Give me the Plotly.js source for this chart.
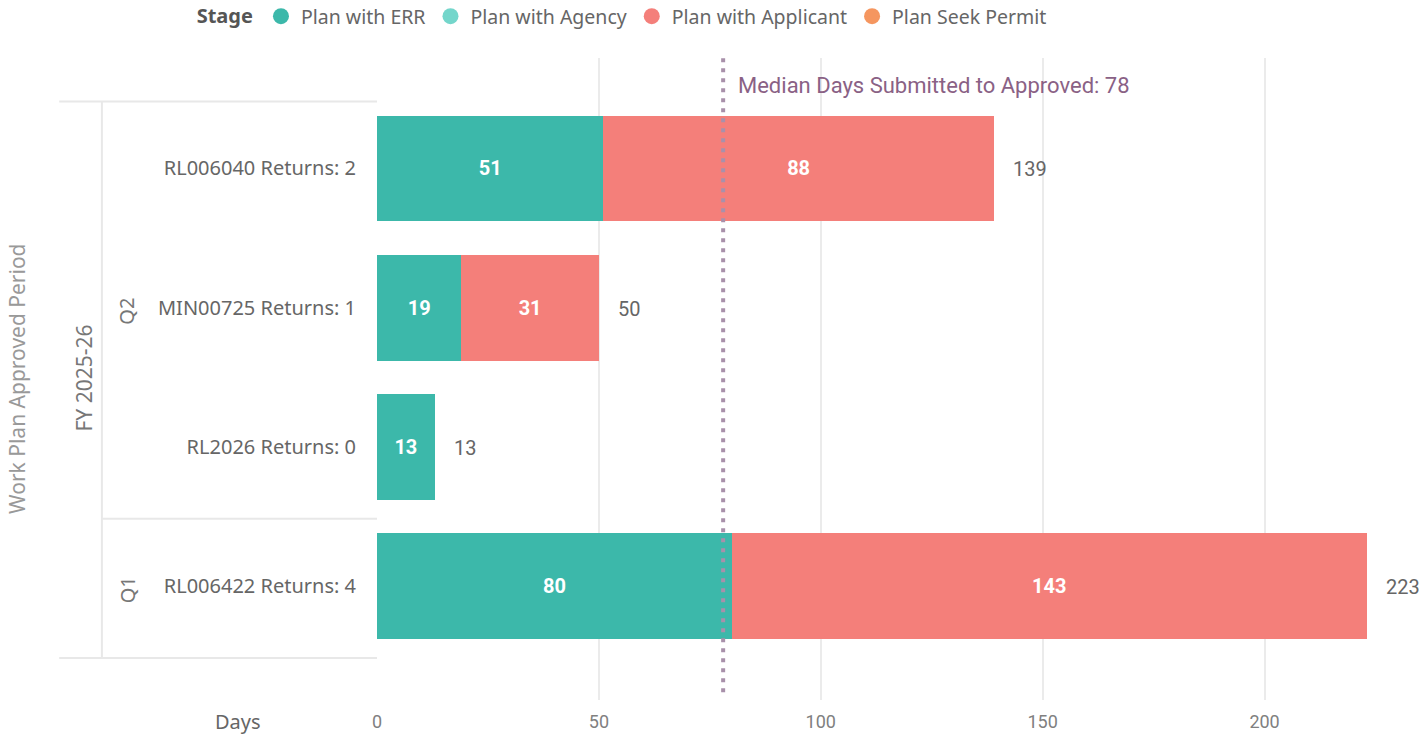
<!DOCTYPE html>
<html>
<head>
<meta charset="utf-8">
<script src="https://cdn.plot.ly/plotly-3.0.1.min.js"></script>
<style>
html,body{margin:0;padding:0;background:#fff;}
#chart{width:1419px;height:735px;}
</style>
</head>
<body>
<div id="chart"></div>
<script>
// ---- data ----
const categories = ["RL006422 Returns: 4", "RL2026 Returns: 0", "MIN00725 Returns: 1", "RL006040 Returns: 2"];
const quarters = ["Q1", "Q2", "Q2", "Q2"];
const fiscalYear = "FY 2025-26";
const planWithERR = [80, 13, 19, 51];
const planWithAgency = [null, null, null, null];
const planWithApplicant = [143, null, 31, 88];
const planSeekPermit = [null, null, null, null];
const stageNames = ["Plan with ERR", "Plan with Agency", "Plan with Applicant", "Plan Seek Permit"];
const medianDays = 78;
const xTicks = [0, 50, 100, 150, 200];

const colors = ["#3CB8AA", "#74D6CB", "#F47F7A", "#F5965F"];
const seriesVals = [planWithERR, planWithAgency, planWithApplicant, planSeekPermit];
const totals = categories.map((c, i) => seriesVals.reduce((s, arr) => s + (arr[i] || 0), 0));

const DIN = "Roboto, 'Noto Sans', sans-serif";
const SEG = "'Noto Sans', 'Open Sans', sans-serif";

const traces = [];
seriesVals.forEach((vals, k) => {
  traces.push({
    type: 'bar', orientation: 'h', name: stageNames[k],
    y: categories, x: vals,
    marker: {color: colors[k], line: {width: 0}},
    width: 0.76,
    text: vals.map(v => v == null ? '' : String(v)),
    textposition: 'inside', insidetextanchor: 'middle',
    textfont: {family: DIN, size: 20, color: '#ffffff', weight: 'bold'},
    cliponaxis: false,
    showlegend: false, hoverinfo: 'skip'
  });
});
// legend entries (circle markers)
stageNames.forEach((n, k) => {
  traces.push({
    type: 'scatter', mode: 'markers', name: n, x: [null], y: [null],
    marker: {color: colors[k], size: 18, symbol: 'circle'},
    showlegend: true, hoverinfo: 'skip'
  });
});

const annotations = [];
// totals
categories.forEach((c, i) => {
  annotations.push({
    x: totals[i], y: c, xref: 'x', yref: 'y', text: String(totals[i]),
    xanchor: 'left', yanchor: 'middle', xshift: 17, yshift: -1, showarrow: false,
    font: {family: DIN, size: 20, color: '#666666'}
  });
});
// median label
annotations.push({
  x: medianDays, xref: 'x', y: 1.0, yref: 'paper', yshift: -27,
  text: 'Median Days Submitted to Approved: ' + medianDays,
  xanchor: 'left', yanchor: 'middle', xshift: 13, showarrow: false,
  font: {family: DIN, size: 22, color: '#8A6185'}
});
// hierarchy labels
annotations.push({
  x: -0.345, xref: 'paper', y: 0.5 * (categories.length - 1), yref: 'y', yshift: -2,
  text: 'Work Plan Approved Period', textangle: -90, showarrow: false,
  xanchor: 'center', yanchor: 'middle',
  font: {family: SEG, size: 21, color: '#999999'}
});
annotations.push({
  x: -0.281, xref: 'paper', y: 0.5 * (categories.length - 1), yref: 'y', yshift: -1,
  text: fiscalYear, textangle: -90, showarrow: false,
  xanchor: 'center', yanchor: 'middle',
  font: {family: SEG, size: 21, color: '#777777'}
});
// quarter labels
const qGroups = {};
quarters.forEach((q, i) => { (qGroups[q] = qGroups[q] || []).push(i); });
Object.keys(qGroups).forEach(q => {
  const idx = qGroups[q];
  annotations.push({
    x: -0.24, xref: 'paper', y: (idx[0] + idx[idx.length - 1]) / 2, yref: 'y', yshift: -3,
    text: q, textangle: -90, showarrow: false, xanchor: 'center', yanchor: 'middle',
    font: {family: SEG, size: 20, color: '#777777'}
  });
});
annotations.push({
  x: -0.133, xref: 'paper', y: 0, yref: 'paper', yshift: -21,
  text: 'Days', showarrow: false, xanchor: 'center', yanchor: 'middle',
  font: {family: SEG, size: 20, color: '#666666'}
});

const lineCol = '#E8E8E8';
const shapes = [
  {type: 'line', xref: 'x', yref: 'paper', x0: medianDays, x1: medianDays, y0: 0.012, y1: 1,
   line: {color: '#A890AA', width: 4, dash: '4px,6px'}},
  {type: 'line', xref: 'paper', yref: 'y', x0: -0.305, x1: 0, y0: 3.48, y1: 3.48, line: {color: lineCol, width: 2}},
  {type: 'line', xref: 'paper', yref: 'y', x0: -0.264, x1: 0, y0: 0.485, y1: 0.485, line: {color: lineCol, width: 2}},
  {type: 'line', xref: 'paper', yref: 'y', x0: -0.305, x1: 0, y0: -0.515, y1: -0.515, line: {color: lineCol, width: 2}},
  {type: 'line', xref: 'paper', yref: 'y', x0: -0.264, x1: -0.264, y0: -0.515, y1: 3.48, line: {color: lineCol, width: 2}}
];

const layout = {
  width: 1419, height: 735,
  margin: {l: 377, r: 0, t: 58, b: 35, pad: 0, autoexpand: false},
  paper_bgcolor: '#ffffff', plot_bgcolor: '#ffffff',
  barmode: 'stack', bargap: 0.24,
  showlegend: true,
  legend: {
    orientation: 'h', x: -0.175, xanchor: 'left', y: 1.095, yanchor: 'top',
    traceorder: 'normal',
    title: {text: '<b>Stage</b>', font: {family: SEG, size: 20, color: '#555555'}},
    font: {family: SEG, size: 19.5, color: '#666666'},
    itemwidth: 30, tracegroupgap: 0, bgcolor: 'rgba(0,0,0,0)'
  },
  xaxis: {
    range: [0, 234.8], tickvals: xTicks, ticktext: xTicks.map(String),
    showgrid: true, gridcolor: '#EBEBEB', gridwidth: 2, zeroline: false,
    showline: false, ticks: 'outside', ticklen: 5, tickcolor: 'rgba(0,0,0,0)',
    tickfont: {family: DIN, size: 18, color: '#808080'}, fixedrange: true
  },
  yaxis: {
    type: 'category', categoryorder: 'array', categoryarray: categories,
    range: [-0.816, 3.793], showgrid: false, zeroline: false, showline: false,
    ticks: '', ticklabelstandoff: 20,
    tickfont: {family: SEG, size: 20, color: '#666666'}, fixedrange: true
  },
  annotations: annotations,
  shapes: shapes,
  hovermode: false
};

Plotly.newPlot('chart', traces, layout, {displayModeBar: false, staticPlot: true});
</script>
</body>
</html>
